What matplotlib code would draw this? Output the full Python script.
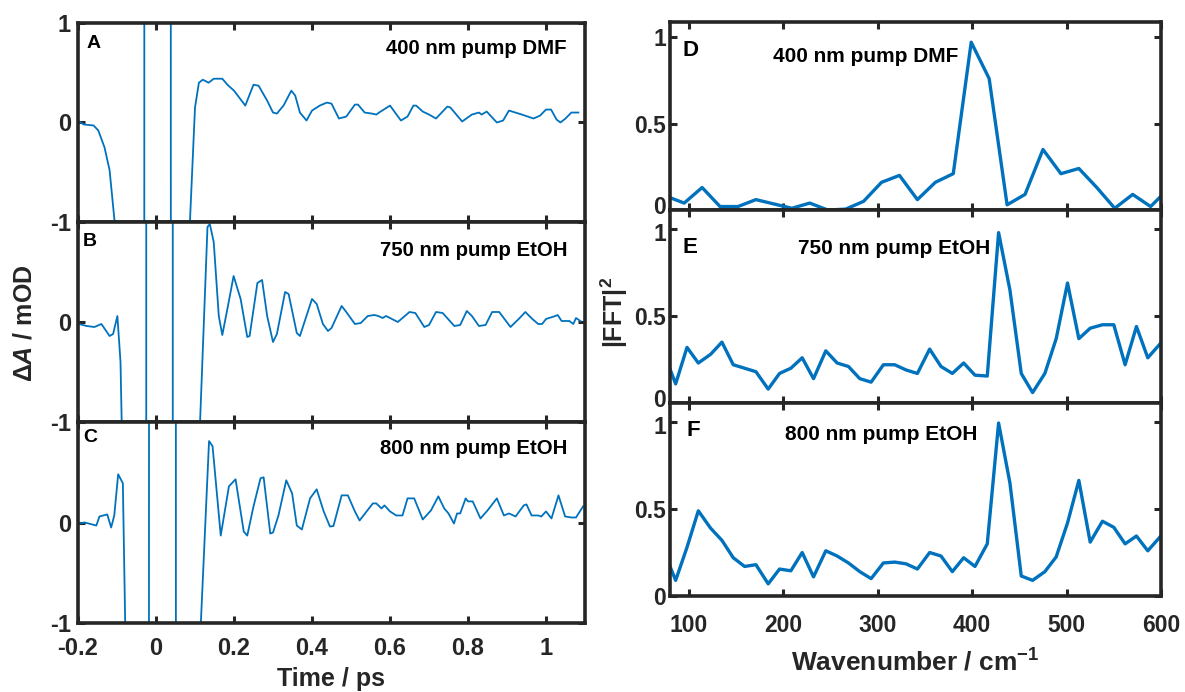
import matplotlib
matplotlib.use('Agg')
import matplotlib.pyplot as plt
from matplotlib.transforms import ScaledTranslation

plt.rcParams['font.family'] = ['Liberation Sans', 'DejaVu Sans']
plt.rcParams['font.weight'] = 'bold'
plt.rcParams['mathtext.fontset'] = 'custom'
plt.rcParams['mathtext.rm'] = 'Liberation Sans:bold'
plt.rcParams['mathtext.it'] = 'Liberation Sans:italic:bold'
plt.rcParams['mathtext.bf'] = 'Liberation Sans:bold'

# ---------------- data ----------------
t_A = [-0.197, -0.185, -0.160, -0.148, -0.132, -0.119, -0.106, -0.095, -0.085, -0.031, -0.029, 0.037, 0.039,
       0.075, 0.087, 0.100, 0.110, 0.120, 0.135, 0.148, 0.170, 0.183, 0.200, 0.229, 0.250, 0.263, 0.285, 0.300,
       0.310, 0.327, 0.347, 0.357, 0.369, 0.386, 0.400, 0.420, 0.438, 0.450, 0.469, 0.488, 0.510, 0.518, 0.535,
       0.553, 0.565, 0.572, 0.600, 0.628, 0.645, 0.660, 0.667, 0.684, 0.700, 0.718, 0.747, 0.755, 0.785, 0.810,
       0.828, 0.835, 0.848, 0.855, 0.874, 0.890, 0.905, 0.938, 0.968, 0.985, 1.000, 1.013, 1.027, 1.037, 1.050,
       1.065, 1.083]
dA_A = [0.01, -0.02, -0.03, -0.08, -0.25, -0.48, -1.0, -1.6, -40, -40, 40, 40, -40,
        -40, -1.0, 0.15, 0.40, 0.43, 0.40, 0.44, 0.44, 0.38, 0.32, 0.17, 0.38, 0.37, 0.22, 0.10,
        0.09, 0.17, 0.32, 0.27, 0.10, 0.02, 0.12, 0.17, 0.20, 0.19, 0.04, 0.06, 0.18, 0.18, 0.10,
        0.09, 0.08, 0.10, 0.17, 0.02, 0.06, 0.17, 0.17, 0.11, 0.08, 0.04, 0.16, 0.15, 0.01, 0.08,
        0.10, 0.08, 0.11, 0.08, 0.00, 0.02, 0.12, 0.08, 0.04, 0.07, 0.13, 0.13, 0.03, 0.00, 0.04,
        0.10, 0.10]

t_B = [-0.197, -0.178, -0.158, -0.140, -0.119, -0.110, -0.099, -0.091, -0.087, -0.080, -0.026, -0.024, 0.042,
       0.044, 0.105, 0.113, 0.132, 0.138, 0.148, 0.161, 0.170, 0.183, 0.199, 0.217, 0.234, 0.240, 0.260, 0.272,
       0.285, 0.300, 0.310, 0.331, 0.340, 0.361, 0.369, 0.400, 0.412, 0.428, 0.441, 0.450, 0.476, 0.486, 0.510,
       0.525, 0.543, 0.560, 0.570, 0.581, 0.590, 0.620, 0.650, 0.665, 0.688, 0.700, 0.718, 0.735, 0.765, 0.780,
       0.797, 0.810, 0.828, 0.845, 0.862, 0.880, 0.909, 0.930, 0.947, 0.965, 0.980, 0.990, 1.000, 1.024, 1.030,
       1.040, 1.060, 1.070, 1.077, 1.088]
dA_B = [-0.02, -0.04, -0.05, -0.02, -0.14, -0.12, 0.06, -0.40, -1.2, -40, -40, 40, 40,
        -40, -40, -1.0, 0.95, 0.98, 0.80, 0.06, -0.13, 0.13, 0.46, 0.23, -0.15, -0.14, 0.39, 0.42,
        0.06, -0.20, -0.12, 0.30, 0.28, -0.11, -0.14, 0.23, 0.18, -0.02, -0.09, -0.06, 0.16, 0.11, -0.02,
        -0.01, 0.06, 0.07, 0.06, 0.04, 0.06, 0.00, 0.10, 0.09, -0.05, -0.03, 0.10, 0.09, -0.04, -0.03,
        0.11, 0.06, -0.04, -0.03, 0.10, 0.10, -0.05, 0.03, 0.10, 0.03, -0.02, -0.02, 0.03, 0.06, 0.07,
        0.01, 0.01, -0.02, 0.04, 0.01]

t_C = [-0.197, -0.183, -0.153, -0.145, -0.125, -0.115, -0.107, -0.097, -0.085, -0.079, -0.075, -0.019, -0.017,
       0.050, 0.052, 0.110, 0.115, 0.136, 0.145, 0.166, 0.187, 0.204, 0.225, 0.234, 0.250, 0.268, 0.276, 0.293,
       0.300, 0.314, 0.334, 0.349, 0.361, 0.374, 0.395, 0.412, 0.430, 0.446, 0.455, 0.476, 0.492, 0.510, 0.522,
       0.540, 0.556, 0.565, 0.578, 0.586, 0.600, 0.616, 0.632, 0.645, 0.662, 0.684, 0.705, 0.724, 0.739, 0.750,
       0.764, 0.772, 0.780, 0.794, 0.800, 0.812, 0.832, 0.850, 0.874, 0.892, 0.905, 0.922, 0.943, 0.950, 0.963,
       0.980, 0.988, 1.000, 1.014, 1.032, 1.049, 1.065, 1.077, 1.095]
dA_C = [-0.01, 0.00, -0.03, 0.06, 0.08, -0.05, 0.07, 0.48, 0.39, -1.0, -40, -40, 40,
        40, -40, -40, -1.0, 0.81, 0.76, -0.13, 0.36, 0.43, -0.09, -0.13, 0.16, 0.44, 0.45, -0.11,
        -0.10, 0.07, 0.42, 0.29, -0.03, -0.07, 0.24, 0.33, 0.11, -0.04, -0.035, 0.27, 0.27, 0.11, 0.02,
        0.11, 0.19, 0.19, 0.14, 0.17, 0.11, 0.07, 0.07, 0.24, 0.24, 0.03, 0.12, 0.26, 0.14, 0.09,
        -0.01, 0.09, 0.09, 0.24, 0.21, 0.21, 0.04, 0.12, 0.24, 0.07, 0.09, 0.06, 0.17, 0.18, 0.07,
        0.07, 0.06, 0.11, 0.04, 0.27, 0.06, 0.05, 0.05, 0.16]

w_D = [76, 95, 114, 133, 152, 171, 190, 209, 228, 247, 266, 285, 304, 323, 342, 361, 380, 399, 418, 437,
       456, 475, 494, 513, 532, 551, 570, 589, 600]
fft_D = [0.08, 0.04, 0.13, 0.02, 0.02, 0.06, 0.035, 0.01, 0.04, 0.0, 0.005, 0.05, 0.16, 0.20, 0.06, 0.16,
         0.21, 0.97, 0.76, 0.03, 0.09, 0.35, 0.21, 0.24, 0.13, 0.01, 0.09, 0.02, 0.08]

w_EF = [74, 86, 98, 110, 123, 135, 147, 159, 171, 184, 196, 208, 220, 232, 245, 257, 269, 281, 293, 306,
        318, 330, 342, 355, 367, 379, 391, 403, 416, 428, 440, 452, 464, 477, 489, 501, 513, 525, 538, 550,
        562, 574, 586, 599]
fft_E = [0.28, 0.11, 0.32, 0.23, 0.28, 0.35, 0.22, 0.20, 0.18, 0.08, 0.17, 0.20, 0.26, 0.14, 0.30, 0.23,
         0.21, 0.14, 0.12, 0.22, 0.22, 0.19, 0.17, 0.31, 0.21, 0.17, 0.23, 0.16, 0.155, 0.98, 0.65, 0.17,
         0.06, 0.17, 0.37, 0.69, 0.37, 0.43, 0.45, 0.45, 0.22, 0.44, 0.26, 0.34]
fft_F = [0.25, 0.09, 0.28, 0.49, 0.39, 0.32, 0.22, 0.17, 0.18, 0.07, 0.155, 0.145, 0.25, 0.11, 0.26, 0.23,
         0.19, 0.14, 0.10, 0.19, 0.195, 0.185, 0.155, 0.25, 0.23, 0.14, 0.22, 0.17, 0.30, 0.995, 0.65, 0.115,
         0.09, 0.14, 0.225, 0.42, 0.665, 0.31, 0.43, 0.395, 0.30, 0.345, 0.26, 0.34]

left_letters = ['A', 'B', 'C']
right_letters = ['D', 'E', 'F']
conditions = ['400 nm pump DMF', '750 nm pump EtOH', '800 nm pump EtOH']
time_ticks = [-0.2, 0, 0.2, 0.4, 0.6, 0.8, 1.0]
time_ticklabels = ['-0.2', '0', '0.2', '0.4', '0.6', '0.8', '1']
wn_ticks = [100, 200, 300, 400, 500, 600]
fft_ticks = [0, 0.5, 1]
fft_ticklabels = ['0', '0.5', '1']

# ---------------- figure ----------------
W, H = 1185, 692
fig = plt.figure(figsize=(W / 100, H / 100), dpi=100)
LINE = '#0072BD'
DARK = '#262626'


def px_axes(x0, y0, x1, y1):
    return fig.add_axes([x0 / W, 1 - y1 / H, (x1 - x0) / W, (y1 - y0) / H])


def ftext(x, y, s, **kw):
    fig.text(x / W, 1 - y / H, s, **kw)


def style(ax, ypad, xpad, size):
    for s in ax.spines.values():
        s.set_linewidth(2.6)
        s.set_color(DARK)
    ax.tick_params(direction='in', length=5, width=2.2, top=True, right=True,
                   color=DARK, labelcolor=DARK, labelsize=size)
    ax.tick_params(axis='y', pad=ypad)
    ax.tick_params(axis='x', pad=xpad)


def shift_ylabel(ax, idx, dy_px):
    tick = ax.yaxis.get_major_ticks()[idx]
    lab = tick.label1
    lab.set_transform(lab.get_transform() + ScaledTranslation(0, dy_px / 100, fig.dpi_scale_trans))


left_boxes = [(78, 23, 585, 222), (78, 222, 585, 422), (78, 422, 585, 623)]
right_boxes = [(670, 22, 1161, 210), (670, 210, 1161, 403), (670, 403, 1161, 596)]
right_ylim_top = [1.087, 1.11, 1.11]

times = [t_A, t_B, t_C]
traces = [dA_A, dA_B, dA_C]
for i, box in enumerate(left_boxes):
    ax = px_axes(*box)
    ax.plot(times[i], traces[i], color=LINE, lw=1.3)
    ax.set_xlim(-0.2, 1.1)
    ax.set_ylim(-1, 1)
    ax.set_xticks(time_ticks)
    ax.set_yticks([-1, 0, 1])
    ax.set_yticklabels(['-1', '0', '1'] if i == 0 else ['-1', '0', ''])
    if i == 2:
        ax.set_xticklabels(time_ticklabels)
    else:
        ax.set_xticklabels([])
    style(ax, 5, 10, 17)

ffts = [fft_D, fft_E, fft_F]
wns = [w_D, w_EF, w_EF]
for i, box in enumerate(right_boxes):
    ax = px_axes(*box)
    ax.plot(wns[i], ffts[i], color=LINE, lw=2.4)
    ax.set_xlim(80, 600)
    ax.set_ylim(0, right_ylim_top[i])
    ax.set_xticks(wn_ticks)
    ax.set_yticks(fft_ticks)
    ax.set_yticklabels(fft_ticklabels)
    if i == 2:
        ax.set_xticklabels([str(v) for v in wn_ticks])
    else:
        ax.set_xticklabels([])
    style(ax, 3, 13, 16.5)
    if i < 2:
        shift_ylabel(ax, 0, 5)     # '0' sits a little above its tick
    if i > 0:
        shift_ylabel(ax, 2, -3)    # '1' sits a little below its tick

# panel letters and conditions
left_letter_pos = [(87, 44), (83, 242), (83, 438)]
left_cond_pos = [(567, 48), (567, 251), (567, 449)]
for i in range(3):
    ftext(*left_letter_pos[i], left_letters[i], ha='left', va='center', fontsize=14, color='black')
    ftext(*left_cond_pos[i], conditions[i], ha='right', va='center', fontsize=14.7, color='black')

right_letter_pos = [(682, 51), (683, 248), (687, 431)]
right_cond_pos = [(773, 56), (798, 249), (785, 435)]
for i in range(3):
    ftext(*right_letter_pos[i], right_letters[i], ha='left', va='center', fontsize=16, color='black')
    ftext(*right_cond_pos[i], conditions[i], ha='left', va='center', fontsize=15, color='black')

# axis labels
ftext(331, 679, 'Time / ps', ha='center', va='center', fontsize=18, color=DARK)
ftext(915, 662, r'Wavenumber / cm$^{-1}$', ha='center', va='center', fontsize=19, color=DARK)
ftext(25, 323, r'$\Delta A$ / mOD', ha='center', va='center', rotation=90, fontsize=18, color=DARK)
ftext(614, 312, r'|FFT|$^{2}$', ha='center', va='center', rotation=90, fontsize=18, color=DARK)

fig.savefig('out.png', dpi=100)
